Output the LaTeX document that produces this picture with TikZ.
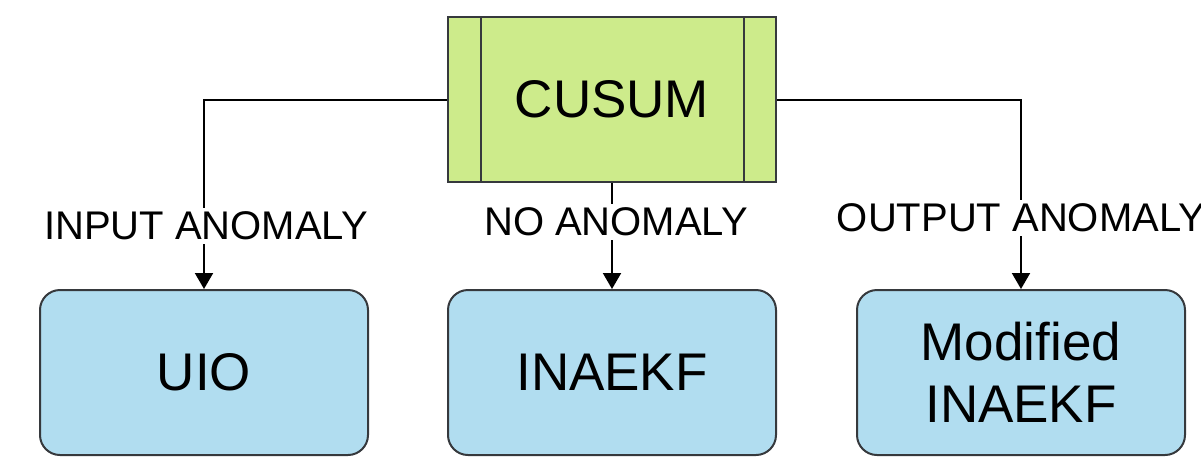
\documentclass[tikz,border=0pt]{standalone}
\usepackage{fontspec}
\setmainfont{Liberation Sans}
\usetikzlibrary{arrows.meta}
\definecolor{boxgreen}{HTML}{CDEB8B}
\definecolor{boxblue}{HTML}{B1DDF0}
\definecolor{edgegray}{HTML}{36393D}
\tikzset{
  procbox/.style={draw=edgegray, line width=1pt, fill=boxgreen, minimum width=164pt, minimum height=82.5pt, inner sep=0pt, font=\fontsize{26.5}{31}\selectfont},
  blockbox/.style={draw=edgegray, line width=1pt, fill=boxblue, rounded corners=10pt, minimum width=164pt, minimum height=82.5pt, inner sep=0pt, align=center, font=\fontsize{26.5}{31}\selectfont},
  conn/.style={draw=black, line width=1pt, -{Triangle[width=9pt,length=8pt]}},
  edgelabel/.style={fill=white, inner sep=2pt, font=\fontsize{20}{24}\selectfont}
}
\begin{document}
\begin{tikzpicture}[x=0.5pt,y=-0.5pt]
\useasboundingbox (0,0) rectangle (1201,462);
\node[procbox] (cusum) at (612,99.5) {CUSUM};
\draw[edgegray, line width=1pt] ([xshift=17pt]cusum.north west) -- ([xshift=17pt]cusum.south west);
\draw[edgegray, line width=1pt] ([xshift=-16.5pt]cusum.north east) -- ([xshift=-16.5pt]cusum.south east);
\node[blockbox] (uio) at (204,372.5) {UIO};
\node[blockbox] (inaekf) at (612,372.5) {INAEKF};
\node[blockbox] (mod) at (1021,372.5) {Modified\\INAEKF};
\draw[conn] (cusum.west) -| (uio.north);
\draw[conn] (cusum.south) -- (inaekf.north);
\draw[conn] (cusum.east) -| (mod.north);
\node[edgelabel] (lin) at (206,226) {INPUT ANOMALY};
\node[edgelabel] (lno) at (616,222) {NO ANOMALY};
\node[edgelabel] (lout) at (1021,218) {OUTPUT ANOMALY};
\end{tikzpicture}
\end{document}
